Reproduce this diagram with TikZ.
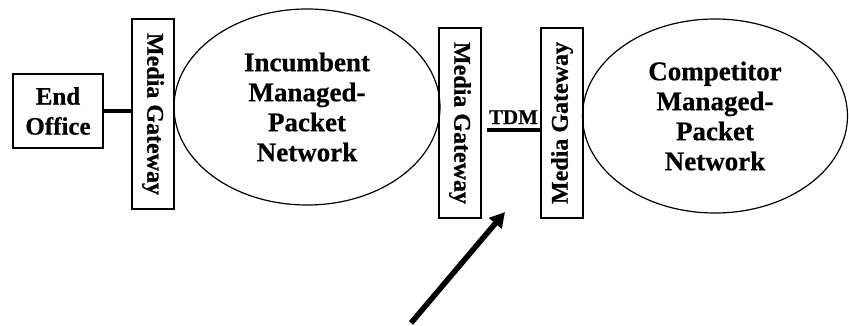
\documentclass[tikz,border=0pt]{standalone}
\usepackage{fontspec}
\setmainfont{Liberation Serif}[BoldFeatures={FakeBold=0.6}]
\usetikzlibrary{arrows.meta,shapes.geometric}
\tikzset{
    >=Triangle,
    net/.style={
        office/.append style={align=center,draw,line width=1.5pt,rectangle,minimum width=90pt,minimum height=74pt,font=\fontsize{25}{30}\selectfont\bfseries},
        gateway/.append style={draw,line width=1.3pt,rectangle,minimum width=190pt,minimum height=42pt,inner sep=0pt,font=\fontsize{24}{28}\selectfont\bfseries},
        cloud/.append style={align=center,draw,line width=1.2pt,ellipse,inner sep=0pt,font=\fontsize{27}{30}\selectfont\bfseries},
        link/.append style={line width=3.2pt},
        pointer/.append style={->,line width=5.5pt,arrows={-Triangle[length=15pt,width=16pt]}}
    }
}

\begin{document}
\begin{tikzpicture}[net,x=1pt,y=-1pt]
    \useasboundingbox (0,0) rectangle (849,326);
    \node[office] (eo) at (58,111) {End\\Office};
    \node[gateway,rotate=-90] (mg1) at (153,114) {Media Gateway};
    \node[cloud,minimum width=266pt,minimum height=196pt] (inc) at (307,107) {Incumbent\\Managed-\\Packet\\Network};
    \node[gateway,rotate=-90] (mg2) at (460,123) {Media Gateway};
    \node[gateway,rotate=90] (mg3) at (562,123) {Media Gateway};
    \node[cloud,minimum width=265pt,minimum height=194pt] (comp) at (715,116) {Competitor\\Managed-\\Packet\\Network};
    \draw[link] (eo.east) -- (eo.east -| mg1.south);
    \draw[link] ([xshift=5pt,yshift=-7pt]mg2.north) -- node[above=1pt,font=\fontsize{21}{24}\selectfont\bfseries] (tdm) {TDM} ([yshift=-7pt]mg3.north);
    \coordinate (tail) at (411,323);
    \coordinate (tip) at (505,212);
    \draw[pointer] (tail) -- (tip);
\end{tikzpicture}
\end{document}
